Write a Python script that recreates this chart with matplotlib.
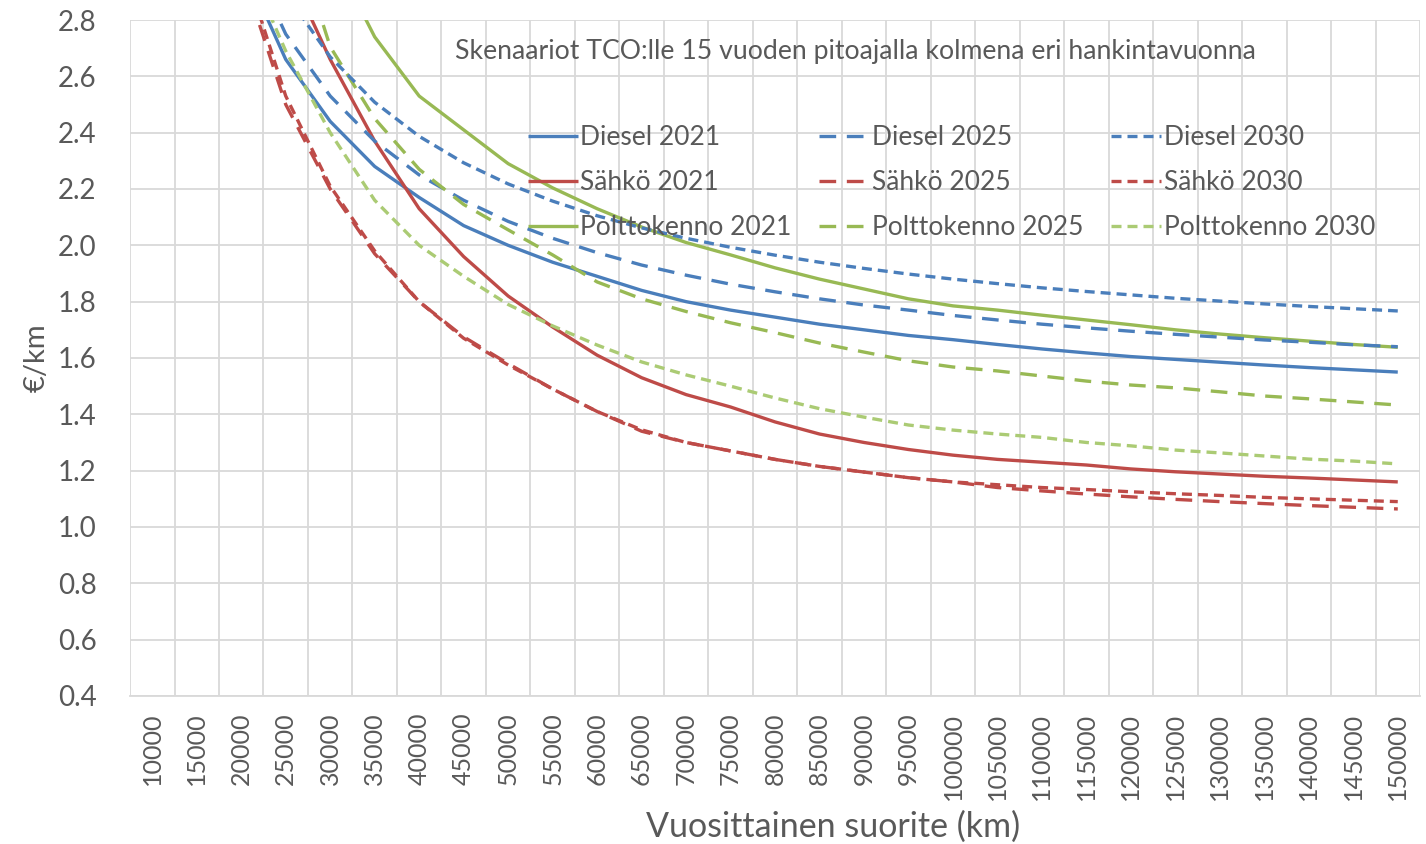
import matplotlib
matplotlib.use("Agg")
import matplotlib.pyplot as plt
import numpy as np

# vuosisuorite (km) ja TCO (EUR/km) luettu kuvasta
suorite = list(range(10000, 150001, 5000))

diesel_2021 = [4.70, 3.58, 3.01, 2.66, 2.44, 2.28, 2.17, 2.07, 2.00, 1.94,
               1.89, 1.84, 1.80, 1.77, 1.745, 1.72, 1.70, 1.68, 1.665, 1.648,
               1.632, 1.618, 1.605, 1.595, 1.585, 1.575, 1.566, 1.558, 1.55]
diesel_2025 = [4.75, 3.64, 3.09, 2.75, 2.53, 2.37, 2.25, 2.16, 2.085, 2.025,
               1.974, 1.93, 1.894, 1.862, 1.835, 1.81, 1.788, 1.77, 1.751, 1.735,
               1.72, 1.707, 1.695, 1.684, 1.674, 1.664, 1.656, 1.647, 1.64]
diesel_2030 = [4.92, 3.80, 3.23, 2.894, 2.669, 2.508, 2.387, 2.293, 2.218, 2.157,
               2.105, 2.062, 2.025, 1.993, 1.965, 1.94, 1.918, 1.898, 1.88, 1.864,
               1.849, 1.836, 1.824, 1.812, 1.802, 1.792, 1.783, 1.775, 1.767]
sahko_2021 = [5.80, 4.20, 3.40, 3.00, 2.66, 2.37, 2.13, 1.96, 1.82, 1.71,
              1.61, 1.53, 1.47, 1.426, 1.373, 1.33, 1.30, 1.275, 1.255, 1.24,
              1.23, 1.22, 1.206, 1.196, 1.188, 1.18, 1.174, 1.167, 1.16]
sahko_2025 = [5.00, 3.70, 2.98, 2.50, 2.20, 1.97, 1.80, 1.675, 1.58, 1.49,
              1.41, 1.34, 1.30, 1.27, 1.24, 1.215, 1.195, 1.175, 1.16, 1.14,
              1.128, 1.117, 1.107, 1.098, 1.09, 1.083, 1.076, 1.07, 1.064]
sahko_2030 = [5.05, 3.74, 3.02, 2.53, 2.21, 1.98, 1.80, 1.67, 1.575, 1.49,
              1.41, 1.345, 1.30, 1.27, 1.24, 1.215, 1.195, 1.175, 1.16, 1.15,
              1.14, 1.133, 1.125, 1.118, 1.112, 1.105, 1.10, 1.095, 1.09]
polttok_2021 = [7.50, 5.30, 4.20, 3.50, 3.05, 2.74, 2.53, 2.41, 2.29, 2.204,
                2.13, 2.065, 2.01, 1.966, 1.92, 1.88, 1.845, 1.81, 1.785, 1.77,
                1.752, 1.735, 1.718, 1.70, 1.685, 1.672, 1.66, 1.648, 1.638]
polttok_2025 = [6.00, 4.40, 3.60, 3.20, 2.705, 2.45, 2.27, 2.145, 2.055, 1.966,
                1.87, 1.81, 1.765, 1.725, 1.69, 1.653, 1.621, 1.59, 1.568, 1.554,
                1.536, 1.518, 1.504, 1.494, 1.48, 1.465, 1.455, 1.444, 1.433]
polttok_2030 = [5.20, 3.80, 3.05, 2.69, 2.40, 2.16, 2.00, 1.89, 1.79, 1.714,
                1.646, 1.586, 1.54, 1.50, 1.458, 1.42, 1.39, 1.362, 1.344, 1.33,
                1.318, 1.30, 1.288, 1.273, 1.263, 1.252, 1.241, 1.234, 1.224]

sarjat = [
    ("Diesel 2021", diesel_2021, "#4A7EBB", "-"),
    ("Sähkö 2021", sahko_2021, "#BE4B48", "-"),
    ("Polttokenno 2021", polttok_2021, "#98B954", "-"),
    ("Diesel 2025", diesel_2025, "#4A7EBB", "long"),
    ("Sähkö 2025", sahko_2025, "#BE4B48", "long"),
    ("Polttokenno 2025", polttok_2025, "#98B954", "long"),
    ("Diesel 2030", diesel_2030, "#4A7EBB", "short"),
    ("Sähkö 2030", sahko_2030, "#BE4B48", "short"),
    ("Polttokenno 2030", polttok_2030, "#ABCB74", "short"),
]

plt.rcParams['font.family'] = ['Lato', 'DejaVu Sans']
tekstivari = "#595959"

fig = plt.figure(figsize=(14.26, 8.44), dpi=100)
ax = fig.add_axes([0.0912, 0.1754, 0.9046, 0.8009])

x = np.arange(len(suorite))
for nimi, arvot, vari, tyyli in sarjat:
    if tyyli == "-":
        ax.plot(x, arvot, color=vari, lw=2.4, label=nimi, solid_capstyle='butt')
    elif tyyli == "long":
        ax.plot(x, arvot, color=vari, lw=2.4, label=nimi, dashes=(5.0, 3.2))
    else:
        ax.plot(x, arvot, color=vari, lw=2.4, label=nimi, dashes=(3.0, 1.8))

ax.set_xlim(-0.5, len(suorite) - 0.5)
ax.set_ylim(0.4, 2.8)
ax.set_yticks(np.arange(0.4, 2.81, 0.2))
ax.set_yticklabels(["%.1f" % v for v in np.arange(0.4, 2.81, 0.2)])
ax.set_xticks(x)
ax.set_xticklabels([str(s) for s in suorite], rotation=90)
ax.set_xticks(np.arange(-0.5, len(suorite), 1), minor=True)

ax.grid(False)
ax.grid(True, which='minor', axis='x', color='#d9d9d9', lw=1.3)
ax.grid(True, which='major', axis='y', color='#d9d9d9', lw=1.3)
ax.set_axisbelow(True)
for s in ['top', 'right', 'left']:
    ax.spines[s].set_visible(False)
ax.spines['bottom'].set_color('#d9d9d9')
ax.spines['bottom'].set_linewidth(1.3)
ax.tick_params(axis='both', which='both', length=0, colors=tekstivari)
ax.tick_params(axis='x', labelsize=18, pad=12)
ax.tick_params(axis='y', labelsize=20, pad=24)

ax.set_xlabel("Vuosittainen suorite (km)", fontsize=24.5, color=tekstivari, labelpad=8, x=0.545)
ax.set_ylabel("€/km", fontsize=21, color=tekstivari, labelpad=6)

ax.text(0.562, 0.953, "Skenaariot TCO:lle 15 vuoden pitoajalla kolmena eri hankintavuonna",
        transform=ax.transAxes, ha='center', va='center', fontsize=19.2, color=tekstivari)

leg = ax.legend(loc='upper left', bbox_to_anchor=(0.3, 0.86), ncol=3, frameon=False,
                fontsize=19, handlelength=1.9, handletextpad=0.1, columnspacing=1.05,
                labelspacing=0.75, borderaxespad=0)
for t in leg.get_texts():
    t.set_color(tekstivari)

fig.savefig("out.png", dpi=100)
